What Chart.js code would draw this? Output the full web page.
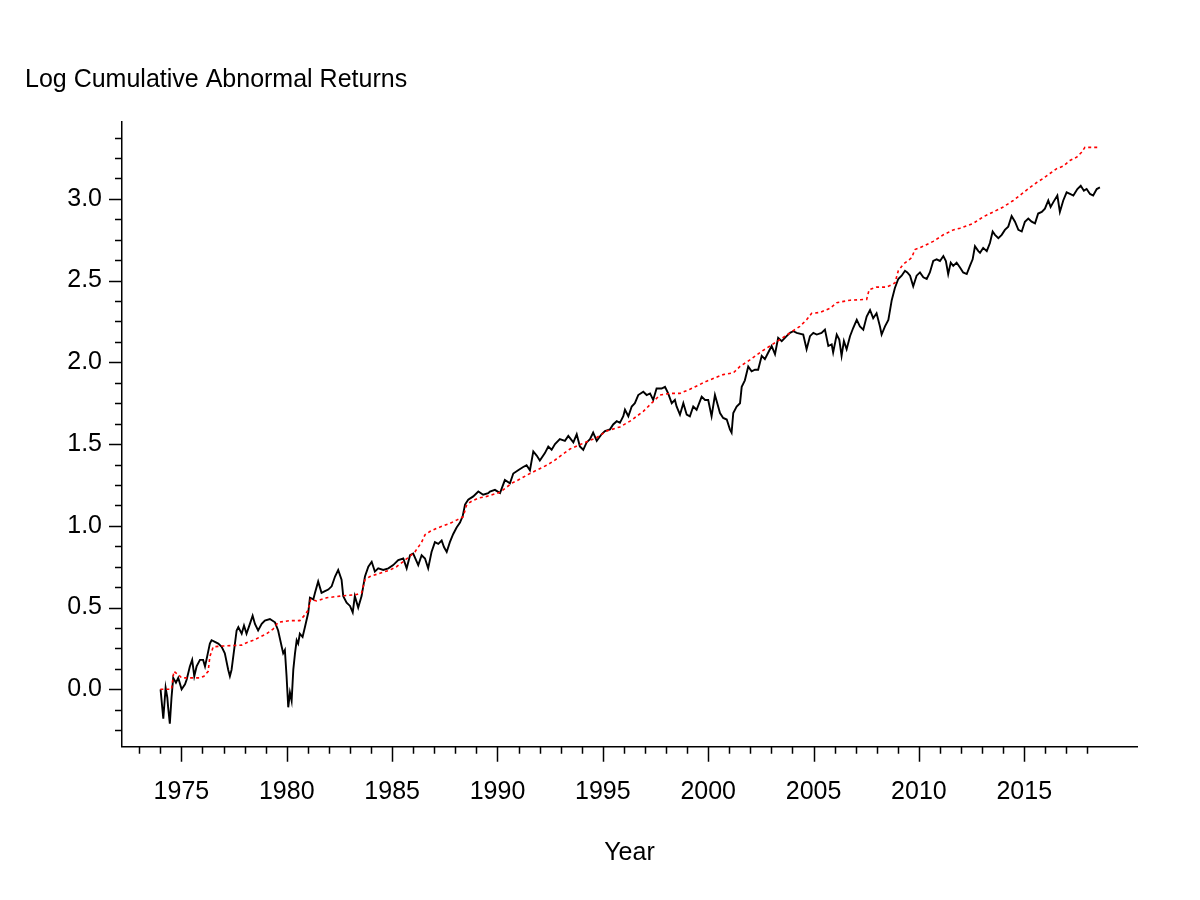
<!DOCTYPE html>
<html>
<head>
<meta charset="utf-8">
<title>Log Cumulative Abnormal Returns</title>
<script src="https://cdn.jsdelivr.net/npm/chart.js@4.4.1/dist/chart.umd.min.js"></script>
<style>
  html, body { margin: 0; padding: 0; background: #fff; }
  canvas { display: block; }
</style>
</head>
<body>
<canvas id="carChart" width="1200" height="900"></canvas>
<script>
// -------------------------------------------------------
// data (decimal year, log cumulative return)
// -------------------------------------------------------
const returnYears = [
  1974.01, 1974.14, 1974.25, 1974.33, 1974.37, 1974.45, 1974.53, 1974.61, 1974.74, 1974.85,
  1975.01, 1975.17, 1975.25, 1975.40, 1975.51, 1975.61, 1975.72, 1975.88, 1976.03, 1976.12,
  1976.22, 1976.35, 1976.43, 1976.59, 1976.75, 1976.91, 1977.06, 1977.22, 1977.30, 1977.38,
  1977.46, 1977.62, 1977.70, 1977.86, 1977.97, 1978.09, 1978.25, 1978.38, 1978.49, 1978.64,
  1978.81, 1978.96, 1979.20, 1979.44, 1979.59, 1979.76, 1979.83, 1979.91, 1979.99, 1980.07,
  1980.15, 1980.23, 1980.31, 1980.39, 1980.47, 1980.54, 1980.62, 1980.75, 1980.86, 1981.02,
  1981.10, 1981.26, 1981.34, 1981.49, 1981.65, 1981.81, 1981.97, 1982.13, 1982.29, 1982.44,
  1982.60, 1982.68, 1982.84, 1983.00, 1983.13, 1983.23, 1983.39, 1983.55, 1983.71, 1983.87,
  1984.03, 1984.18, 1984.34, 1984.58, 1984.82, 1985.05, 1985.29, 1985.53, 1985.69, 1985.85,
  1986.00, 1986.24, 1986.40, 1986.56, 1986.71, 1986.87, 1987.03, 1987.19, 1987.35, 1987.46,
  1987.59, 1987.74, 1987.90, 1988.06, 1988.22, 1988.35, 1988.46, 1988.61, 1988.85, 1989.09,
  1989.32, 1989.56, 1989.64, 1989.88, 1990.12, 1990.35, 1990.59, 1990.75, 1990.98, 1991.22,
  1991.38, 1991.54, 1991.70, 1991.86, 1992.01, 1992.25, 1992.41, 1992.57, 1992.73, 1992.96,
  1993.20, 1993.36, 1993.60, 1993.76, 1993.91, 1994.07, 1994.23, 1994.39, 1994.54, 1994.71,
  1994.94, 1995.10, 1995.34, 1995.49, 1995.66, 1995.81, 1995.97, 1996.05, 1996.21, 1996.37,
  1996.52, 1996.68, 1996.92, 1997.08, 1997.24, 1997.39, 1997.55, 1997.79, 1997.95, 1998.10,
  1998.27, 1998.42, 1998.50, 1998.66, 1998.82, 1998.98, 1999.13, 1999.29, 1999.45, 1999.69,
  1999.85, 2000.00, 2000.16, 2000.32, 2000.56, 2000.71, 2000.88, 2001.03, 2001.11, 2001.19,
  2001.35, 2001.51, 2001.59, 2001.74, 2001.90, 2002.06, 2002.22, 2002.37, 2002.54, 2002.69,
  2002.85, 2003.01, 2003.17, 2003.32, 2003.49, 2003.72, 2003.88, 2004.04, 2004.20, 2004.51,
  2004.67, 2004.83, 2004.99, 2005.15, 2005.38, 2005.54, 2005.70, 2005.86, 2005.93, 2006.10,
  2006.22, 2006.33, 2006.44, 2006.57, 2006.73, 2006.88, 2007.05, 2007.20, 2007.36, 2007.52,
  2007.68, 2007.83, 2007.99, 2008.15, 2008.23, 2008.39, 2008.55, 2008.71, 2008.86, 2009.02,
  2009.18, 2009.34, 2009.45, 2009.58, 2009.73, 2009.89, 2010.05, 2010.21, 2010.37, 2010.52,
  2010.68, 2010.84, 2011.00, 2011.16, 2011.28, 2011.39, 2011.51, 2011.63, 2011.79, 2011.95,
  2012.10, 2012.27, 2012.42, 2012.55, 2012.66, 2012.82, 2012.90, 2013.05, 2013.22, 2013.37,
  2013.50, 2013.61, 2013.77, 2013.93, 2014.08, 2014.24, 2014.40, 2014.56, 2014.72, 2014.88,
  2015.03, 2015.19, 2015.35, 2015.51, 2015.66, 2015.83, 2015.98, 2016.14, 2016.25, 2016.38,
  2016.57, 2016.69, 2016.85, 2017.01, 2017.17, 2017.33, 2017.52, 2017.68, 2017.83, 2017.96,
  2018.12, 2018.27, 2018.44, 2018.59
];
const returnValues = [
  0.00, -0.18, 0.01, -0.05, -0.11, -0.21, -0.05, 0.07, 0.04, 0.07,
  0.00, 0.03, 0.06, 0.14, 0.18, 0.08, 0.14, 0.18, 0.18, 0.14,
  0.20, 0.28, 0.30, 0.29, 0.28, 0.26, 0.22, 0.12, 0.08, 0.12,
  0.20, 0.36, 0.38, 0.34, 0.39, 0.34, 0.40, 0.45, 0.40, 0.36,
  0.40, 0.42, 0.43, 0.41, 0.36, 0.26, 0.22, 0.24, 0.08, -0.11,
  -0.02, -0.07, 0.12, 0.22, 0.30, 0.28, 0.34, 0.32, 0.38, 0.47,
  0.56, 0.55, 0.59, 0.66, 0.59, 0.60, 0.61, 0.63, 0.69, 0.73,
  0.67, 0.57, 0.53, 0.51, 0.47, 0.57, 0.50, 0.57, 0.69, 0.75,
  0.78, 0.72, 0.74, 0.73, 0.74, 0.76, 0.79, 0.80, 0.74, 0.82,
  0.83, 0.76, 0.82, 0.80, 0.74, 0.84, 0.90, 0.89, 0.91, 0.87,
  0.84, 0.90, 0.95, 0.99, 1.02, 1.06, 1.13, 1.16, 1.18, 1.21,
  1.19, 1.20, 1.21, 1.22, 1.20, 1.28, 1.26, 1.32, 1.34, 1.36,
  1.37, 1.34, 1.455, 1.43, 1.40, 1.445, 1.485, 1.465, 1.50, 1.53,
  1.52, 1.55, 1.51, 1.56, 1.485, 1.465, 1.51, 1.53, 1.57, 1.52,
  1.56, 1.58, 1.59, 1.62, 1.64, 1.63, 1.67, 1.71, 1.67, 1.73,
  1.75, 1.80, 1.82, 1.80, 1.81, 1.77, 1.84, 1.84, 1.85, 1.81,
  1.75, 1.77, 1.73, 1.68, 1.75, 1.68, 1.67, 1.73, 1.71, 1.79,
  1.77, 1.77, 1.67, 1.80, 1.69, 1.66, 1.65, 1.59, 1.57, 1.69,
  1.73, 1.75, 1.85, 1.89, 1.975, 1.945, 1.955, 1.955, 2.04, 2.02,
  2.06, 2.10, 2.05, 2.15, 2.13, 2.16, 2.18, 2.19, 2.18, 2.17,
  2.08, 2.16, 2.18, 2.17, 2.18, 2.20, 2.10, 2.11, 2.06, 2.17,
  2.14, 2.04, 2.13, 2.08, 2.16, 2.21, 2.26, 2.22, 2.20, 2.28,
  2.32, 2.27, 2.30, 2.22, 2.17, 2.22, 2.26, 2.38, 2.455, 2.51,
  2.53, 2.56, 2.55, 2.53, 2.465, 2.53, 2.55, 2.52, 2.51, 2.55,
  2.62, 2.63, 2.62, 2.65, 2.62, 2.54, 2.61, 2.59, 2.61, 2.58,
  2.55, 2.54, 2.59, 2.63, 2.71, 2.68, 2.67, 2.70, 2.68, 2.73,
  2.80, 2.78, 2.76, 2.78, 2.81, 2.83, 2.895, 2.86, 2.81, 2.80,
  2.86, 2.88, 2.86, 2.85, 2.91, 2.92, 2.94, 2.99, 2.95, 2.98,
  3.02, 2.92, 2.99, 3.04, 3.03, 3.02, 3.06, 3.08, 3.05, 3.06,
  3.03, 3.02, 3.06, 3.07
];

// red dotted benchmark line
const benchYears = [
  1974.00, 1974.53, 1974.64, 1974.85, 1975.01, 1975.40, 1975.88, 1976.07, 1976.27, 1976.35,
  1976.51, 1976.98, 1977.86, 1978.09, 1978.41, 1978.73, 1979.04, 1979.36, 1979.59, 1980.15,
  1980.62, 1980.86, 1981.02, 1981.13, 1981.42, 1981.89, 1982.52, 1983.32, 1983.55, 1983.71,
  1983.95, 1984.42, 1984.90, 1985.21, 1985.61, 1986.08, 1986.40, 1986.56, 1986.79, 1987.11,
  1987.43, 1987.74, 1988.06, 1988.37, 1988.54, 1988.77, 1989.09, 1989.49, 1990.12, 1990.67,
  1990.98, 1991.54, 1992.33, 1992.65, 1993.44, 1994.07, 1994.71, 1995.18, 1995.81, 1996.29,
  1996.92, 1997.39, 1997.71, 1998.18, 1998.66, 1999.13, 1999.61, 1999.93, 2000.71, 2001.19,
  2001.51, 2001.98, 2002.46, 2002.93, 2003.41, 2003.88, 2004.35, 2004.67, 2004.91, 2005.30,
  2005.78, 2006.10, 2006.73, 2007.52, 2007.64, 2007.99, 2008.47, 2008.86, 2009.02, 2009.26,
  2009.66, 2009.81, 2010.21, 2010.68, 2011.16, 2011.63, 2011.95, 2012.58, 2013.05, 2013.53,
  2014.00, 2014.48, 2014.88, 2015.27, 2015.59, 2015.90, 2016.22, 2016.54, 2016.85, 2017.17,
  2017.49, 2017.72, 2017.88, 2018.59
];
const benchValues = [
  0.00, 0.00, 0.11, 0.09, 0.07, 0.07, 0.07, 0.08, 0.11, 0.20,
  0.26, 0.265, 0.27, 0.285, 0.30, 0.32, 0.34, 0.37, 0.41, 0.42,
  0.42, 0.455, 0.485, 0.55, 0.54, 0.56, 0.57, 0.58, 0.59, 0.67,
  0.69, 0.71, 0.73, 0.75, 0.79, 0.84, 0.90, 0.945, 0.965, 0.985,
  1.00, 1.015, 1.035, 1.055, 1.13, 1.15, 1.17, 1.18, 1.205, 1.26,
  1.28, 1.32, 1.37, 1.395, 1.47, 1.505, 1.54, 1.58, 1.605, 1.64,
  1.70, 1.76, 1.80, 1.81, 1.81, 1.835, 1.865, 1.885, 1.925, 1.935,
  1.975, 2.015, 2.06, 2.10, 2.14, 2.18, 2.22, 2.26, 2.30, 2.305,
  2.33, 2.365, 2.38, 2.385, 2.445, 2.46, 2.46, 2.485, 2.56, 2.60,
  2.64, 2.69, 2.71, 2.74, 2.78, 2.81, 2.82, 2.85, 2.89, 2.92,
  2.95, 2.99, 3.03, 3.07, 3.10, 3.125, 3.155, 3.185, 3.20, 3.235,
  3.255, 3.285, 3.315, 3.315
];

// tick positions: one mark per year, one per 0.125 on the value axis
const yearTicks = [];
for (let yr = 1973; yr <= 2018; yr++) yearTicks.push(yr);
const valueTicks = [];
for (let k = -2; k <= 27; k++) valueTicks.push(k * 0.125);

const isMajorYear = v => v % 5 === 0;
const isMajorValue = v => Math.abs(v * 2 - Math.round(v * 2)) < 1e-9;

// -------------------------------------------------------
// long / short tick marks drawn outside the axes
// -------------------------------------------------------
const tickMarks = {
  id: "tickMarks",
  afterDraw(chart) {
    const { ctx } = chart;
    const xs = chart.scales.x;
    const ys = chart.scales.y;
    ctx.save();
    ctx.strokeStyle = "#000";
    ctx.lineWidth = 1.5;
    ctx.beginPath();
    xs.ticks.forEach(t => {
      const px = Math.round(xs.getPixelForValue(t.value)) + 0.5;
      ctx.moveTo(px, xs.top);
      ctx.lineTo(px, xs.top + (isMajorYear(t.value) ? 15 : 7));
    });
    ys.ticks.forEach(t => {
      const py = Math.round(ys.getPixelForValue(t.value)) + 0.5;
      ctx.moveTo(ys.right, py);
      ctx.lineTo(ys.right - (isMajorValue(t.value) ? 13 : 7), py);
    });
    ctx.stroke();
    ctx.restore();
  },
};

const FONT = "'Liberation Sans', Arial, Helvetica, sans-serif";
Chart.defaults.font.family = FONT;
Chart.defaults.font.size = 25;
Chart.defaults.color = "#000";

new Chart(document.getElementById("carChart"), {
  type: "line",
  data: {
    datasets: [
      {
        label: "Benchmark",
        data: benchYears.map((yr, i) => ({ x: yr, y: benchValues[i] })),
        borderColor: "#ff0000",
        borderWidth: 1.6,
        borderDash: [3, 3],
        pointRadius: 0,
        tension: 0,
        fill: false,
      },
      {
        label: "Log Cumulative Abnormal Returns",
        data: returnYears.map((yr, i) => ({ x: yr, y: returnValues[i] })),
        borderColor: "#000",
        borderWidth: 1.9,
        pointRadius: 0,
        tension: 0,
        fill: false,
      },
    ],
  },
  options: {
    responsive: false,
    animation: false,
    events: [],
    layout: { padding: { left: 25, right: 63, top: 0, bottom: 0 } },
    plugins: {
      legend: { display: false },
      tooltip: { enabled: false },
      title: {
        display: true,
        text: "Log Cumulative Abnormal Returns",
        align: "start",
        color: "#000",
        font: { size: 25, weight: "normal" },
        padding: { top: 65, bottom: 27 },
      },
    },
    scales: {
      x: {
        type: "linear",
        min: 1972.18,
        max: 2020.35,
        afterBuildTicks: s => { s.ticks = yearTicks.map(v => ({ value: v })); },
        afterFit: s => { s.height = 153.3; s.paddingLeft = 0; s.paddingRight = 0; },
        ticks: {
          autoSkip: false,
          maxRotation: 0,
          padding: 14,
          callback: v => (isMajorYear(v) ? String(v) : ""),
        },
        grid: { display: true, drawOnChartArea: false, drawTicks: true, tickLength: 16, color: "rgba(0,0,0,0)" },
        border: { display: true, color: "#000", width: 1.5 },
        title: { display: true, text: "Year", font: { size: 25 }, padding: { top: 0, bottom: 32 } },
      },
      y: {
        type: "linear",
        min: -0.351,
        max: 3.47,
        afterBuildTicks: s => { s.ticks = valueTicks.map(v => ({ value: v })); },
        afterFit: s => { s.width = 97; s.paddingTop = 0; s.paddingBottom = 0; },
        ticks: {
          autoSkip: false,
          padding: 7,
          callback: v => (isMajorValue(v) ? v.toFixed(1) : ""),
        },
        grid: { display: true, drawOnChartArea: false, drawTicks: true, tickLength: 13, color: "rgba(0,0,0,0)" },
        border: { display: true, color: "#000", width: 1.5 },
      },
    },
  },
  plugins: [tickMarks],
});
</script>
</body>
</html>
